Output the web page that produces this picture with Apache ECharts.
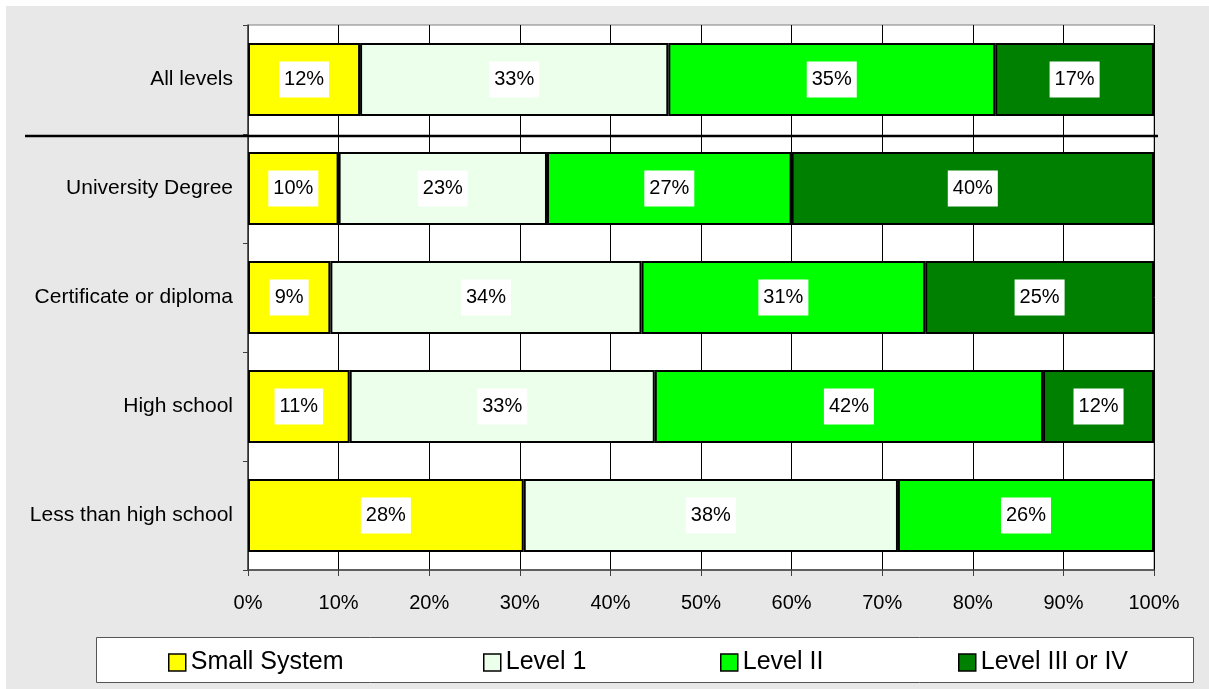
<!DOCTYPE html>
<html><head><meta charset="utf-8">
<script src="https://cdn.jsdelivr.net/npm/echarts@6/dist/echarts.min.js"></script>
<style>
html,body{margin:0;padding:0;background:#fff;width:1209px;height:689px;overflow:hidden;}
#bg{position:absolute;left:6px;top:6px;width:1203px;height:683px;background:#e8e8e8;}
#chart{position:absolute;left:0;top:0;width:1209px;height:689px;}
</style></head>
<body>
<div id="bg"></div>
<div id="chart"></div>
<script>
const categories = ['All levels', 'University Degree', 'Certificate or diploma', 'High school', 'Less than high school'];
const seriesNames = ['Small System', 'Level 1', 'Level II', 'Level III or IV'];
const smallSystem = [12, 10, 9, 11, 28];
const level1 = [33, 23, 34, 33, 38];
const level2 = [35, 27, 31, 42, 26];
const level3 = [17, 40, 25, 12, 0];
const xTicks = [0, 10, 20, 30, 40, 50, 60, 70, 80, 90, 100];

const colors = ['#ffff00', '#ebffeb', '#00ff00', '#008000'];
const FONT = '"Liberation Sans", Arial, sans-serif';
const raw = [smallSystem, level1, level2, level3];
const totals = categories.map((c, i) => raw.reduce((s, arr) => s + arr[i], 0));

const series = raw.map((arr, si) => ({
  name: seriesNames[si],
  type: 'bar',
  stack: 'all',
  barWidth: 73,
  data: arr.map((v, i) => v > 0
    ? { value: v / totals[i] * 100, raw: v }
    : { value: 0, raw: 0, label: { show: false }, itemStyle: { borderWidth: 0 } }),
  itemStyle: { color: colors[si], borderColor: '#000', borderWidth: 2 },
  label: {
    show: true,
    position: 'inside',
    fontFamily: FONT,
    fontSize: 20,
    color: '#000',
    backgroundColor: '#fff',
    padding: [9, 5, 7, 5],
    formatter: p => p.data.raw + '%'
  },
  emphasis: { disabled: true }
}));

const legendLefts = [163, 478, 715, 953];
const legends = seriesNames.map((n, i) => ({
  data: [n],
  left: legendLefts[i],
  top: 645,
  icon: 'rect',
  itemWidth: 17,
  itemHeight: 17,
  itemGap: 0,
  selectedMode: false,
  itemStyle: { borderColor: '#000', borderWidth: 1.5 },
  textStyle: { fontFamily: FONT, fontSize: 25, color: '#000' }
}));

const chart = echarts.init(document.getElementById('chart'), null, { renderer: 'canvas' });
chart.setOption({
  animation: false,
  backgroundColor: 'transparent',
  grid: {
    left: 248, top: 25, right: 55, bottom: 119,
    show: true, backgroundColor: '#fff', borderColor: '#808080', borderWidth: 1
  },
  legend: legends,
  xAxis: {
    type: 'value', min: 0, max: 100, interval: 10,
    axisLine: { show: true, lineStyle: { color: '#404040', width: 1.5 } },
    axisTick: { show: true, length: 6, lineStyle: { color: '#404040' } },
    axisLabel: { formatter: v => xTicks.includes(v) ? v + '%' : '', fontFamily: FONT, fontSize: 20, color: '#000', margin: 23 },
    splitLine: { show: true, lineStyle: { color: '#000', width: 1 } }
  },
  yAxis: {
    type: 'category', data: categories, inverse: true,
    axisLine: { show: true, lineStyle: { color: '#404040', width: 1.5 } },
    axisTick: { show: true, length: 5, alignWithLabel: false, lineStyle: { color: '#404040' } },
    axisLabel: { fontFamily: FONT, fontSize: 21, color: '#000', margin: 15 }
  },
  series: series
});

// decorations: legend frame and separator between "All levels" and the rest
const c0 = chart.convertToPixel({ yAxisIndex: 0 }, categories[0]);
const c1 = chart.convertToPixel({ yAxisIndex: 0 }, categories[1]);
const sepY = Math.round((c0 + c1) / 2) + 2;
chart.setOption({
  graphic: [
    { type: 'rect', z: -1, shape: { x: 96.5, y: 637.5, width: 1097, height: 45 },
      style: { fill: '#fff', stroke: '#555', lineWidth: 1 } },
    { type: 'line', z: 100, shape: { x1: 25, y1: sepY, x2: 1158, y2: sepY },
      style: { stroke: '#000', lineWidth: 2.5 } }
  ]
});
</script>
</body></html>
